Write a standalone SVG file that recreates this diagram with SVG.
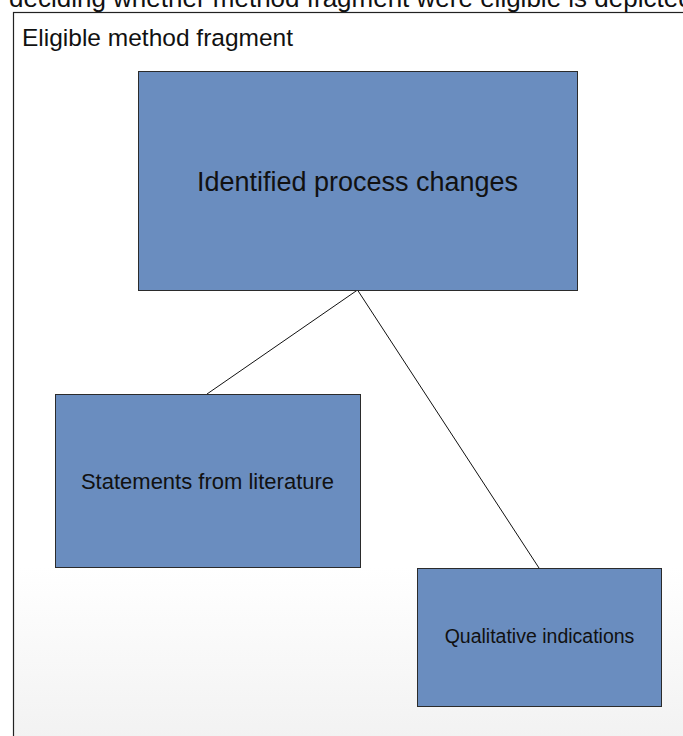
<svg xmlns="http://www.w3.org/2000/svg" width="683" height="736" viewBox="0 0 683 736">
  <defs>
    <linearGradient id="bg" x1="0" y1="0" x2="0" y2="1">
      <stop offset="0" stop-color="#ffffff"/>
      <stop offset="0.75" stop-color="#ffffff"/>
      <stop offset="1" stop-color="#f1f1f1"/>
    </linearGradient>
    <style>
      .box { fill: #6a8dbf; stroke: #2b2b2b; stroke-width: 1; }
      .lbl { font-family: "Liberation Sans", Arial, sans-serif; fill: #111; text-anchor: middle; }
      .edge { stroke: #111; stroke-width: 1; fill: none; }
    </style>
  </defs>

  <rect x="0" y="0" width="683" height="736" fill="#ffffff"/>
  <!-- caption line running off the top -->
  <text x="9" y="7" font-family="Liberation Sans, Arial, sans-serif" font-size="26" fill="#111">deciding whether method fragment were eligible is depicted</text>

  <!-- outer frame -->
  <g id="frame">
    <rect x="13.5" y="12.5" width="680" height="740" fill="url(#bg)" stroke="#222" stroke-width="1.2"/>
    <text x="22" y="46" font-family="Liberation Sans, Arial, sans-serif" font-size="24.5" fill="#111">Eligible method fragment</text>
  </g>

  <g id="connectors">
    <line class="edge" x1="357.5" y1="290" x2="207" y2="394"/>
    <line class="edge" x1="357.5" y1="290" x2="539" y2="568"/>
  </g>

  <g id="process-changes">
    <rect class="box" x="138.5" y="71.5" width="439" height="219"/>
    <text class="lbl" x="357.5" y="190.5" font-size="27">Identified process changes</text>
  </g>

  <g id="statements">
    <rect class="box" x="55.5" y="394.5" width="305" height="173"/>
    <text class="lbl" x="207.5" y="489" font-size="22">Statements from literature</text>
  </g>

  <g id="qualitative">
    <rect class="box" x="417.5" y="568.5" width="244" height="138"/>
    <text class="lbl" x="539.5" y="643" font-size="19.5">Qualitative indications</text>
  </g>
</svg>
